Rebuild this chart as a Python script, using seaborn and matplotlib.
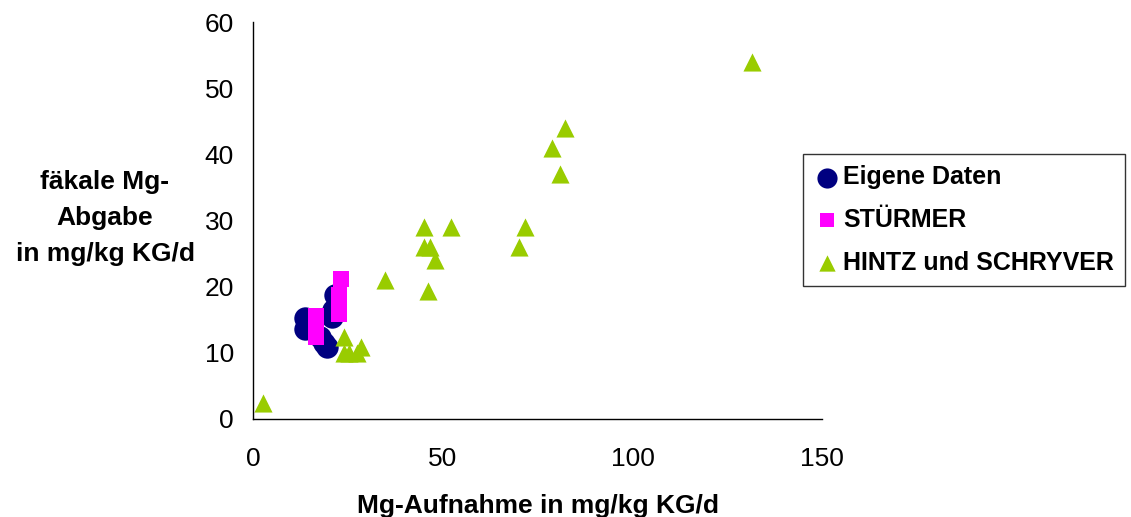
import pandas as pd
import matplotlib.pyplot as plt
import seaborn as sns

# Data
eigene_x = [13.6, 13.6, 17.6, 18.5, 19.3, 20.7, 21.0, 21.5]
eigene_y = [15.2, 13.6, 12.4, 11.5, 10.9, 15.4, 16.5, 18.7]

stuermer_x = [16.5, 16.5, 16.5, 22.6, 22.6, 22.6, 23.0]
stuermer_y = [15.6, 14.1, 12.4, 18.7, 17.5, 15.9, 21.1]

hintz_x = [131.5, 82.1, 78.8, 80.9, 45.1, 52.1, 71.7, 45.1, 46.7, 70.0,
           47.9, 34.6, 46.1, 23.8, 23.8, 25.3, 27.3, 28.3, 2.6]
hintz_y = [54.0, 44.0, 41.0, 37.0, 29.0, 29.0, 29.0, 26.0, 26.0, 26.0,
           24.0, 21.0, 19.3, 12.4, 10.0, 10.0, 10.0, 10.9, 2.4]

series = ['Eigene Daten', 'STÜRMER', 'HINTZ und SCHRYVER']

df = pd.concat([
    pd.DataFrame({'x': eigene_x, 'y': eigene_y, 'Quelle': series[0]}),
    pd.DataFrame({'x': stuermer_x, 'y': stuermer_y, 'Quelle': series[1]}),
    pd.DataFrame({'x': hintz_x, 'y': hintz_y, 'Quelle': series[2]}),
], ignore_index=True)

sns.set_style("white")
plt.rcParams['font.family'] = ['Liberation Sans', 'DejaVu Sans']
plt.rcParams['text.color'] = 'black'
plt.rcParams['axes.labelcolor'] = 'black'
plt.rcParams['xtick.color'] = 'black'
plt.rcParams['ytick.color'] = 'black'

fig = plt.figure(figsize=(11.31, 5.17), dpi=100)
ax = fig.add_axes([0.224, 0.190, 0.503, 0.767])

palette = {series[0]: '#000080', series[1]: '#FF00FF', series[2]: '#99CC00'}
markers = {series[0]: 'o', series[1]: 's', series[2]: '^'}
sizes = {series[0]: 260, series[1]: 130, series[2]: 170}

for name in series:
    sub = df[df['Quelle'] == name]
    sns.scatterplot(data=sub, x='x', y='y', color=palette[name], marker=markers[name],
                    s=sizes[name], linewidth=0, label=name, ax=ax)

ax.set_xlim(0, 150)
ax.set_ylim(0, 60)
ax.set_xticks([0, 50, 100, 150])
ax.set_yticks(range(0, 61, 10))
sns.despine(ax=ax)
for sp in ['left', 'bottom']:
    ax.spines[sp].set_color('black')
    ax.spines[sp].set_linewidth(1)
ax.tick_params(axis='both', direction='out', length=8, width=1, color='black',
               labelsize=19, labelcolor='black')
ax.tick_params(axis='x', pad=12)
ax.tick_params(axis='y', pad=6)

ax.set_xlabel('Mg-Aufnahme in mg/kg KG/d', fontsize=19, fontweight='bold', labelpad=17)
ax.set_ylabel('')
fig.text(105 / 1131, 1 - 218 / 517, 'fäkale Mg-\nAbgabe\nin mg/kg KG/d', ha='center',
         va='center', fontsize=19, fontweight='bold', linespacing=1.65)

leg = ax.legend(loc='upper left', bbox_to_anchor=(803 / 1131, 1 - 154 / 517),
                bbox_transform=fig.transFigure, frameon=True, fancybox=False,
                prop={'weight': 'bold', 'size': 18}, handletextpad=0.15,
                borderpad=0.45, labelspacing=0.75, handlelength=1.0, markerscale=0.9,
                borderaxespad=0)
leg.get_frame().set_edgecolor('black')
leg.get_frame().set_linewidth(1)

plt.savefig('out.png', dpi=100)
plt.close()
